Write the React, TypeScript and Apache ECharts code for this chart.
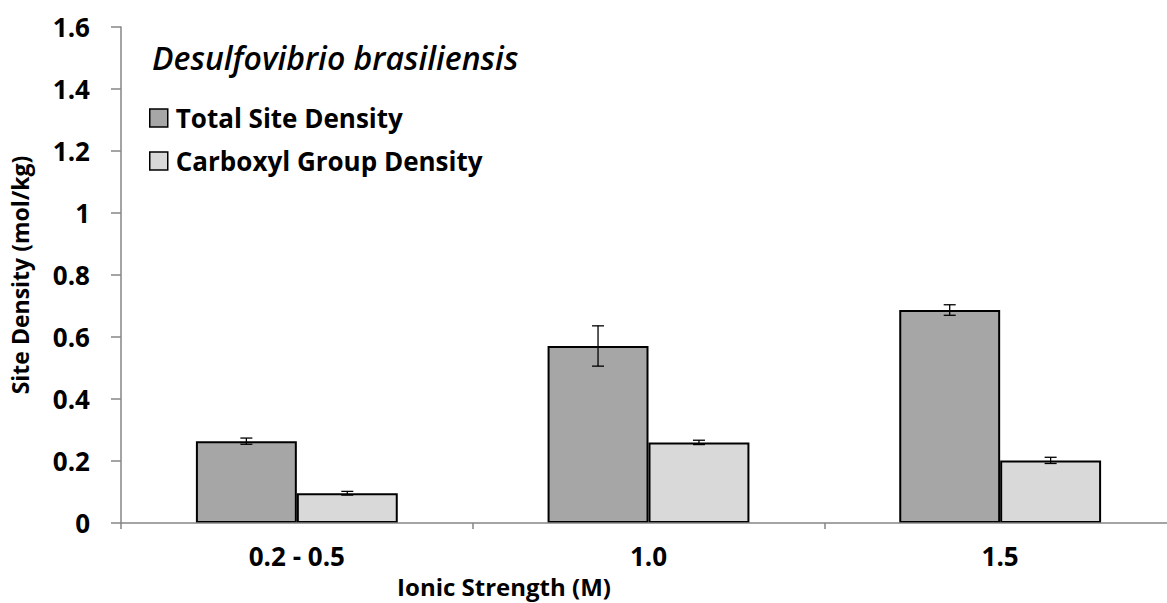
import React, { useEffect, useRef } from "react";
import * as echarts from "echarts";

const categories = ["0.2 - 0.5", "1.0", "1.5"];
const totalSite = [0.264, 0.571, 0.687];
const totalErr = [0.01, 0.065, 0.017];
const carboxyl = [0.096, 0.26, 0.202];
const carboxylErr = [0.006, 0.007, 0.01];
const yTicks = { min: 0, max: 1.6, interval: 0.2 };

const FONT = "'Open Sans', sans-serif";
const GAP = 0.426;

function errData(vals: number[], errs: number[]) {
  return vals.map((v, i) => [i, v - errs[i], v + errs[i]]);
}

function makeErr(name: string, vals: number[], errs: number[], side: number) {
  return {
    type: "custom",
    name: name + " err",
    z: 5,
    silent: true,
    data: errData(vals, errs),
    renderItem: (params: any, api: any) => {
      const idx = api.value(0);
      const lo = api.coord([idx, api.value(1)]);
      const hi = api.coord([idx, api.value(2)]);
      const band = api.size([1, 0])[0];
      const barW = (band * (1 - GAP)) / 2;
      const x = lo[0] + (side * barW) / 2;
      const cap = 6;
      const style = { stroke: "#000", lineWidth: 1.3 };
      return {
        type: "group",
        children: [
          { type: "line", shape: { x1: x, y1: lo[1], x2: x, y2: hi[1] }, style },
          { type: "line", shape: { x1: x - cap, y1: lo[1], x2: x + cap, y2: lo[1] }, style },
          { type: "line", shape: { x1: x - cap, y1: hi[1], x2: x + cap, y2: hi[1] }, style },
        ],
      };
    },
  };
}

export default function App() {
  const ref = useRef<HTMLDivElement>(null);
  useEffect(() => {
    if (!ref.current) return;
    const chart = echarts.init(ref.current, undefined, { renderer: "svg" });
    chart.setOption({
      animation: false,
      backgroundColor: "#fff",
      grid: {
        left: 121,
        top: 27,
        width: 1055,
        height: 496,
        containLabel: false,
        outerBoundsMode: "none",
      },
      legend: {
        orient: "vertical",
        left: 149,
        top: 105,
        padding: 0,
        itemGap: 17,
        itemWidth: 18,
        itemHeight: 18,
        icon: "rect",
        data: ["Total Site Density", "Carboxyl Group Density"],
        textStyle: {
          fontFamily: FONT,
          fontWeight: "bold",
          fontSize: 26,
          lineHeight: 26,
          color: "#000",
          padding: [0, 0, 0, 3],
        },
        itemStyle: { borderColor: "#000", borderWidth: 1.5 },
      },
      xAxis: {
        type: "category",
        data: categories,
        axisLine: { lineStyle: { color: "#868686", width: 1.5 } },
        axisTick: { show: true, length: 6, lineStyle: { color: "#868686", width: 1.5 } },
        axisLabel: { fontFamily: FONT, fontWeight: "bold", fontSize: 26, color: "#000", margin: 20 },
        z: 10,
      },
      yAxis: {
        type: "value",
        min: yTicks.min,
        max: yTicks.max,
        interval: yTicks.interval,
        name: "Site Density (mol/kg)",
        nameLocation: "middle",
        nameGap: 90,
        nameTextStyle: { fontFamily: FONT, fontWeight: "bold", fontSize: 23, color: "#000" },
        splitLine: { show: false },
        axisLine: { show: true, lineStyle: { color: "#868686", width: 1.5 } },
        axisTick: { show: true, length: 10, lineStyle: { color: "#868686", width: 1.5 } },
        axisLabel: { fontFamily: FONT, fontWeight: "bold", fontSize: 26, color: "#000", margin: 31 },
      },
      graphic: [
        {
          type: "text",
          x: 152,
          y: 57,
          style: {
            text: "Desulfovibrio brasiliensis",
            fontFamily: FONT,
            fontStyle: "italic",
            fontWeight: 600,
            fontSize: 32,
            fill: "#000",
            verticalAlign: "middle",
          },
        },
        {
          type: "text",
          x: 504,
          y: 586,
          style: {
            text: "Ionic Strength (M)",
            fontFamily: FONT,
            fontWeight: "bold",
            fontSize: 24,
            fill: "#000",
            align: "center",
            verticalAlign: "middle",
          },
        },
      ],
      series: [
        {
          type: "bar",
          name: "Total Site Density",
          data: totalSite,
          barGap: "0%",
          barCategoryGap: GAP * 100 + "%",
          itemStyle: { color: "#a6a6a6", borderColor: "#000", borderWidth: 2 },
        },
        {
          type: "bar",
          name: "Carboxyl Group Density",
          data: carboxyl,
          itemStyle: { color: "#d9d9d9", borderColor: "#000", borderWidth: 2 },
        },
        makeErr("Total Site Density", totalSite, totalErr, -1),
        makeErr("Carboxyl Group Density", carboxyl, carboxylErr, 1),
      ],
    });
    return () => chart.dispose();
  }, []);
  return (
    <div
      ref={ref}
      style={{ position: "fixed", left: 0, top: 0, width: 1167, height: 603 }}
    />
  );
}
